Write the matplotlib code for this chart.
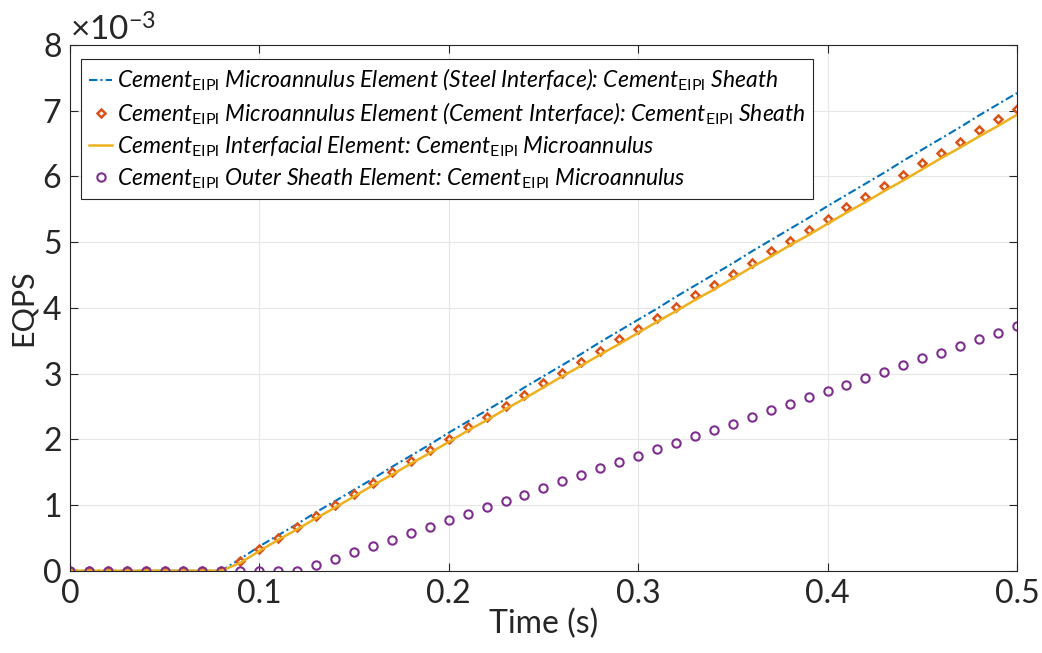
import matplotlib.pyplot as plt
from matplotlib.ticker import ScalarFormatter

plt.rcParams['font.family'] = 'Lato'
plt.rcParams['mathtext.fontset'] = 'custom'
plt.rcParams['mathtext.rm'] = 'Lato'
plt.rcParams['mathtext.it'] = 'Lato:italic'

time = [i / 100 for i in range(51)]

# EQPS values in units of 1e-3
steel_iface = [0, 0, 0, 0, 0, 0, 0, 0, 0,
               0.18, 0.37, 0.54, 0.71, 0.89, 1.06, 1.23, 1.40, 1.58, 1.75, 1.92,
               2.10, 2.27, 2.44, 2.61, 2.79, 2.96, 3.13, 3.30, 3.48, 3.65,
               3.82, 3.99, 4.17, 4.34, 4.51, 4.68, 4.86, 5.03, 5.20, 5.37,
               5.55, 5.72, 5.89, 6.06, 6.24, 6.41, 6.58, 6.75, 6.93, 7.10, 7.27]
cement_iface = [0, 0, 0, 0, 0, 0, 0, 0, 0,
                0.15, 0.33, 0.50, 0.67, 0.83, 1.00, 1.17, 1.34, 1.51, 1.67, 1.84,
                2.01, 2.18, 2.34, 2.51, 2.68, 2.85, 3.01, 3.18, 3.35, 3.52,
                3.68, 3.85, 4.02, 4.19, 4.35, 4.52, 4.69, 4.86, 5.02, 5.19,
                5.36, 5.53, 5.69, 5.86, 6.03, 6.20, 6.36, 6.53, 6.70, 6.87, 7.03]
interfacial = [0, 0, 0, 0, 0, 0, 0, 0, 0,
               0.12, 0.30, 0.47, 0.63, 0.80, 0.96, 1.13, 1.30, 1.46, 1.63, 1.79,
               1.96, 2.13, 2.29, 2.46, 2.62, 2.79, 2.96, 3.12, 3.29, 3.45,
               3.62, 3.79, 3.95, 4.12, 4.28, 4.45, 4.62, 4.78, 4.95, 5.11,
               5.28, 5.45, 5.61, 5.78, 5.94, 6.11, 6.28, 6.44, 6.61, 6.77, 6.94]
outer_sheath = [0, 0, 0, 0, 0, 0, 0, 0, 0, 0, 0, 0, 0,
                0.08, 0.18, 0.28, 0.37, 0.47, 0.57, 0.67,
                0.77, 0.87, 0.97, 1.06, 1.16, 1.26, 1.36, 1.46, 1.56, 1.65,
                1.75, 1.85, 1.95, 2.05, 2.14, 2.24, 2.34, 2.44, 2.54, 2.64,
                2.73, 2.83, 2.93, 3.03, 3.13, 3.23, 3.32, 3.42, 3.52, 3.62, 3.72]

sub = r'$_{\mathrm{EIPl}}$'
labels = [
    'Cement' + sub + ' Microannulus Element (Steel Interface): Cement' + sub + ' Sheath',
    'Cement' + sub + ' Microannulus Element (Cement Interface): Cement' + sub + ' Sheath',
    'Cement' + sub + ' Interfacial Element: Cement' + sub + ' Microannulus',
    'Cement' + sub + ' Outer Sheath Element: Cement' + sub + ' Microannulus',
]

fig = plt.figure(figsize=(10.42, 6.53), dpi=100)
ax = fig.add_axes([0.067, 0.126, 0.909, 0.805])

ax.plot(time, [v * 1e-3 for v in steel_iface], color='#0072BD', ls=(0, (4, 1.5, 1, 1.5)),
        lw=1.5, label=labels[0])
ax.plot(time, [v * 1e-3 for v in cement_iface], color='#D95319', ls='none', marker='D',
        ms=4.5, mfc='none', mew=1.8, label=labels[1])
ax.plot(time, [v * 1e-3 for v in interfacial], color='#EDB120', ls='-', lw=1.8, label=labels[2])
ax.plot(time, [v * 1e-3 for v in outer_sheath], color='#7E2F8E', ls='none', marker='o',
        ms=6, mfc='none', mew=1.5, label=labels[3])

ax.set_xlim(0, 0.5)
ax.set_ylim(0, 8e-3)
ax.set_xticks([0, 0.1, 0.2, 0.3, 0.4, 0.5])
ax.set_xticklabels(['0', '0.1', '0.2', '0.3', '0.4', '0.5'])
fmt = ScalarFormatter(useMathText=True)
fmt.set_powerlimits((-3, -3))
ax.yaxis.set_major_formatter(fmt)
ax.yaxis.get_offset_text().set_fontsize(24)
ax.yaxis.get_offset_text().set_color('#262626')

ax.tick_params(direction='in', labelsize=23, colors='#262626', length=6,
               top=True, right=True, pad=6)
ax.grid(True, color='#e6e6e6', lw=0.8)
for s in ax.spines.values():
    s.set_color('#262626')
    s.set_linewidth(0.8)

ax.set_xlabel('Time (s)', fontsize=23, color='#262626', labelpad=0)
ax.set_ylabel('EQPS', fontsize=22, color='#262626', labelpad=4)

leg = ax.legend(loc='upper left', prop={'style': 'italic', 'size': 16.5},
                handlelength=1.0, handletextpad=0.2, borderpad=0.35, labelspacing=0.32,
                fancybox=False, edgecolor='#262626', framealpha=1,
                bbox_to_anchor=(0.0, 0.995))
leg.get_frame().set_linewidth(0.8)

fig.savefig('out.png', dpi=100)
